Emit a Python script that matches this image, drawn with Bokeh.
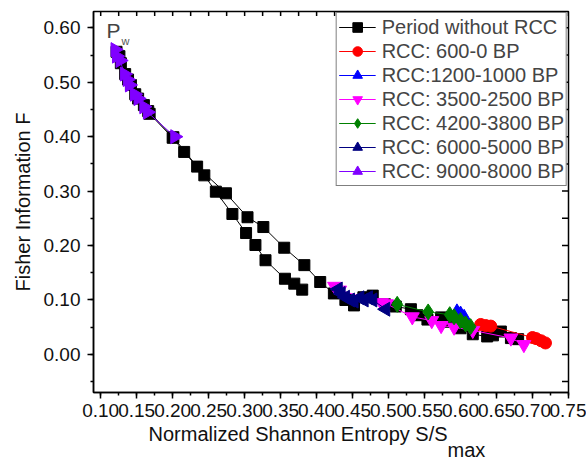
import math
from bokeh.plotting import figure
from bokeh.models import (Range1d, SingleIntervalTicker, Label, Title, NumeralTickFormatter)
from bokeh.embed import file_html
from bokeh.resources import INLINE

FONT = "Liberation Sans"

# ---- data ----
black_x = [0.380, 0.369, 0.356, 0.329, 0.315, 0.302, 0.283, 0.260, 0.244, 0.216, 0.200,
           0.168, 0.160, 0.148, 0.138, 0.128, 0.122,
           0.126, 0.134, 0.142, 0.152, 0.166, 0.201, 0.234, 0.274, 0.304, 0.326, 0.355,
           0.383, 0.405, 0.424, 0.440, 0.452, 0.465, 0.478, 0.495, 0.510, 0.531, 0.540,
           0.554, 0.573, 0.585, 0.600, 0.617, 0.637, 0.645, 0.656, 0.670, 0.680]
black_y = [0.119, 0.130, 0.139, 0.173, 0.201, 0.223, 0.258, 0.299, 0.329, 0.372, 0.398,
           0.442, 0.458, 0.478, 0.505, 0.535, 0.556,
           0.548, 0.515, 0.495, 0.470, 0.447, 0.399, 0.345, 0.296, 0.252, 0.234, 0.196,
           0.164, 0.133, 0.112, 0.100, 0.090, 0.105, 0.108, 0.092, 0.088, 0.083, 0.072,
           0.064, 0.068, 0.060, 0.048, 0.037, 0.033, 0.035, 0.042, 0.030, 0.028]

red_x = [0.628, 0.635, 0.642, 0.700, 0.705, 0.712, 0.718]
red_y = [0.055, 0.053, 0.052, 0.031, 0.029, 0.025, 0.021]

blue_x = [0.595, 0.600, 0.605]
blue_y = [0.078, 0.074, 0.068]

magenta_x = [0.425, 0.432, 0.490, 0.497, 0.533, 0.560, 0.573, 0.591, 0.617, 0.670, 0.688]
magenta_y = [0.125, 0.118, 0.095, 0.093, 0.069, 0.062, 0.053, 0.050, 0.044, 0.030, 0.018]

green_x = [0.512, 0.555, 0.585, 0.591, 0.600, 0.607, 0.614]
green_y = [0.092, 0.078, 0.073, 0.069, 0.062, 0.056, 0.051]

navy_x = [0.430, 0.434, 0.440, 0.447, 0.452, 0.460, 0.466, 0.472, 0.478, 0.496]
navy_y = [0.120, 0.112, 0.105, 0.100, 0.098, 0.104, 0.100, 0.104, 0.100, 0.083]

purple_x = [0.120, 0.122, 0.127, 0.133, 0.137, 0.140, 0.147, 0.152, 0.160, 0.165, 0.203]
purple_y = [0.560, 0.548, 0.540, 0.515, 0.505, 0.495, 0.478, 0.470, 0.455, 0.445, 0.400]

# mirrored (unlabelled) tick positions on the top and right frame edges
top_ticks = [0.10 + 0.025 * i for i in range(27)]
right_ticks = [-0.05 + 0.05 * i for i in range(14)]

X0, X1 = 0.09, 0.75
Y0, Y1 = -0.07, 0.63
W, H = 586, 462
BL, BR, BT, BB = 93, 18, 11, 70

series = [
    ("Period without RCC", black_x, black_y, "#000000", "square", 0.0, 11),
    ("RCC: 600-0 BP", red_x, red_y, "#FF0000", "circle", 0.0, 12),
    ("RCC:1200-1000 BP", blue_x, blue_y, "#0000FF", "triangle", 0.0, 14),
    ("RCC: 3500-2500 BP", magenta_x, magenta_y, "#FF00FF", "inverted_triangle", 0.0, 14),
    ("RCC: 4200-3800 BP", green_x, green_y, "#008000", "diamond", 0.0, 16),
    ("RCC: 6000-5000 BP", navy_x, navy_y, "#000080", "triangle", math.pi / 2, 14),
    ("RCC: 9000-8000 BP", purple_x, purple_y, "#8000FF", "triangle", -math.pi / 2, 14),
]

p = figure(width=W, height=H, output_backend="svg", toolbar_location=None,
           x_range=Range1d(X0, X1), y_range=Range1d(Y0, Y1),
           min_border_left=BL, min_border_right=BR, min_border_top=BT, min_border_bottom=BB,
           background_fill_color="white", border_fill_color="white")
p.grid.visible = False
p.outline_line_color = "black"
p.outline_line_width = 1.5

# inward tick marks on the top and right edges (pixel lengths converted to data units)
dy = (Y1 - Y0) / (H - BT - BB)
dx = (X1 - X0) / (W - BL - BR)
p.segment(x0=top_ticks, y0=[Y1] * len(top_ticks), x1=top_ticks,
          y1=[Y1 - 4.5 * dy] * len(top_ticks), line_color="black", line_width=1.5)
p.segment(x0=[X1] * len(right_ticks), y0=right_ticks, x1=[X1 - 6.5 * dx] * len(right_ticks),
          y1=right_ticks, line_color="black", line_width=1.5)

for name, xs, ys, col, mk, ang, sz in series:
    p.line(xs, ys, line_color=col, line_width=1, legend_label=name)
    p.scatter(xs, ys, marker=mk, angle=ang, size=sz, fill_color=col, line_color=col,
              legend_label=name)

xa = p.xaxis[0]
xa.ticker = SingleIntervalTicker(interval=0.05, num_minor_ticks=2)
xa.formatter = NumeralTickFormatter(format="0.00")
ya = p.yaxis[0]
ya.ticker = SingleIntervalTicker(interval=0.1, num_minor_ticks=2)
ya.formatter = NumeralTickFormatter(format="0.00")
for ax in (xa, ya):
    ax.axis_line_width = 1.5
    ax.major_tick_line_width = 1.5
    ax.minor_tick_line_width = 1.5
    ax.major_tick_in = 0
    ax.major_tick_out = 6
    ax.minor_tick_in = 0
    ax.minor_tick_out = 3
    ax.major_label_text_font = FONT
    ax.major_label_text_font_size = "19px"
    ax.major_label_text_color = "#111111"
xa.major_label_standoff = 5
ya.major_label_standoff = 7
ya.axis_label = "Fisher Information F"
ya.axis_label_text_font = FONT
ya.axis_label_text_font_size = "20px"
ya.axis_label_text_font_style = "normal"
ya.axis_label_text_color = "#111111"
ya.axis_label_standoff = 7

# x-axis title with a subscript, as two titles below the plot
t_main = Title(text="Normalized Shannon Entropy S/S", align="left", offset=55, standoff=2,
               text_font=FONT, text_font_size="20px", text_font_style="normal",
               text_color="#111111")
t_sub = Title(text="max", align="left", offset=354, standoff=-17,
              text_font=FONT, text_font_size="20px", text_font_style="normal",
              text_color="#111111")
p.add_layout(t_main, "below")
p.add_layout(t_sub, "below")

# P_w marker
p.add_layout(Label(x=13, y=362, x_units="screen", y_units="screen", text="P",
                   text_baseline="alphabetic", text_font=FONT, text_font_size="21px",
                   text_color="#444444"))
p.add_layout(Label(x=28, y=352, x_units="screen", y_units="screen", text="w",
                   text_baseline="alphabetic", text_font=FONT, text_font_size="11px",
                   text_color="#555555"))

lg = p.legend[0]
lg.location = "top_right"
lg.margin = 1
lg.padding = 2
lg.spacing = 0
lg.glyph_width = 37
lg.glyph_height = 24
lg.label_height = 24
lg.label_standoff = 6
lg.label_text_font = FONT
lg.label_text_font_size = "20px"
lg.border_line_color = "black"
lg.border_line_width = 1
lg.background_fill_alpha = 1.0

open("out.html", "w").write(file_html(p, INLINE))
